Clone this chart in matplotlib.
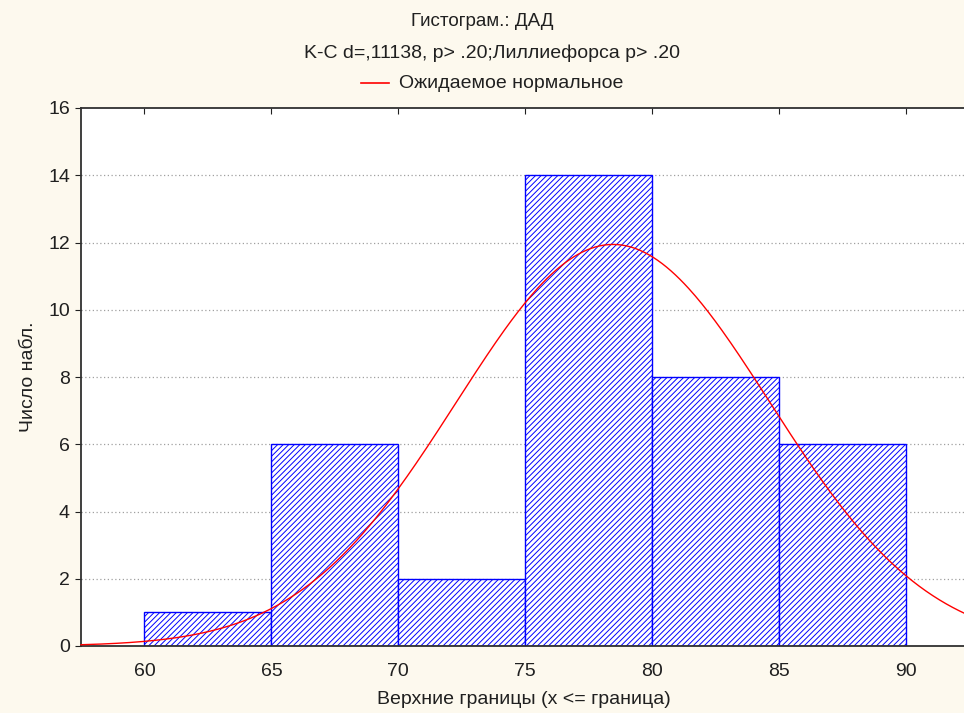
import numpy as np
import matplotlib
matplotlib.use("Agg")
import matplotlib.pyplot as plt

plt.rcParams['font.family'] = ['Liberation Sans', 'DejaVu Sans']
plt.rcParams['hatch.linewidth'] = 0.7
plt.rcParams['hatch.color'] = '#3535f0'

bin_edges = [60, 65, 70, 75, 80, 85, 90]
counts = [1, 6, 2, 14, 8, 6]
n_obs = 37
fit_mean = 78.46
fit_sd = 6.18
x_ticks = [60, 65, 70, 75, 80, 85, 90]
y_ticks = [0, 2, 4, 6, 8, 10, 12, 14, 16]

bg = '#fdf9ee'
fig = plt.figure(figsize=(9.64, 7.13), dpi=100, facecolor=bg)
ax = fig.add_axes([81/964, 1 - 646/713, 1 - 81/964 + 0.002, (646 - 108)/713])
ax.set_facecolor('white')

ax.set_xlim(57.5, 92.36)
ax.set_ylim(0, 16)

for y in y_ticks[1:-1]:
    ax.axhline(y, color='#a0a0a0', lw=0.9, ls=(0, (1, 2)), zorder=1)

lefts = bin_edges[:-1]
widths = np.diff(bin_edges)
ax.bar(lefts, counts, width=widths, align='edge', facecolor='white',
       edgecolor='#0000ff', hatch='//////', lw=1.0, zorder=2)

bw = bin_edges[1] - bin_edges[0]
xs = np.linspace(57.5, 92.36, 400)
ys = n_obs * bw / (fit_sd * np.sqrt(2 * np.pi)) * np.exp(-0.5 * ((xs - fit_mean) / fit_sd) ** 2)
ax.plot(xs, ys, color='#ff0000', lw=1.0, zorder=3, clip_on=False)

ax.set_xticks(x_ticks)
ax.set_yticks(y_ticks)
ax.tick_params(axis='x', which='both', bottom=False, top=True, direction='in',
               length=4, labelsize=14, pad=12, colors='#202020')
ax.tick_params(axis='y', direction='out', length=4, labelsize=14, pad=4, colors='#202020')
for t in ax.get_xticklabels() + ax.get_yticklabels():
    t.set_color('#202020')

for s in ['left', 'bottom', 'top']:
    ax.spines[s].set_color('#303030')
    ax.spines[s].set_linewidth(1.3)
ax.spines['right'].set_visible(False)

ax.set_xlabel('Верхние границы (x <= граница)', fontsize=14, color='#202020', labelpad=8)
ax.set_ylabel('Число набл.', fontsize=14, color='#202020', labelpad=8)

fig.text(482/964, 1 - 22/713, 'Гистограм.: ДАД', ha='center', va='center', fontsize=13.5, color='#202020')
fig.text(492/964, 1 - 53/713, 'K-C d=,11138, p> .20;Лиллиефорса p> .20', ha='center', va='center',
         fontsize=14, color='#202020')
fig.lines.append(plt.Line2D([361/964, 389/964], [1 - 83/713, 1 - 83/713], color='#ff0000', lw=1.2,
                            transform=fig.transFigure))
fig.text(399/964, 1 - 83/713, 'Ожидаемое нормальное', ha='left', va='center', fontsize=14, color='#202020')

fig.savefig('out.png', dpi=100, facecolor=bg)
